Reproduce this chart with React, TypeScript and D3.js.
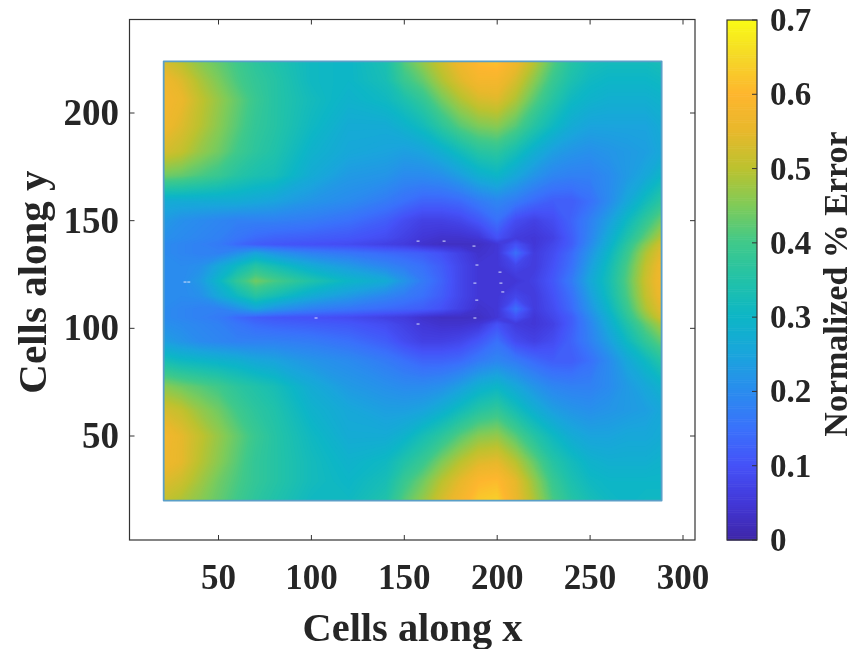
import React from "react";
import * as d3 from "d3";

const xGrid = [20.5,30,40,50,60,70,80,100,120,140,150,160,170,180,190,200,210,220,230,240,250,260,270,280,288.5];
const yGrid = [224,215,206,194,182,171,159,150,142,139,135,129,122,115,109,105,102,94,85,73,62,50,38,29,20];
const errorRows = [
[.53,.50,.46,.43,.40,.37,.35,.31,.30,.34,.42,.47,.52,.57,.61,.62,.57,.50,.42,.36,.33,.32,.32,.32,.33],
[.57,.54,.49,.45,.41,.38,.36,.31,.30,.33,.39,.43,.49,.54,.58,.58,.53,.46,.39,.34,.31,.30,.30,.30,.31],
[.58,.56,.51,.47,.43,.39,.36,.32,.29,.31,.34,.38,.44,.49,.53,.54,.49,.42,.36,.31,.29,.28,.28,.28,.29],
[.57,.54,.50,.46,.42,.38,.36,.31,.27,.27,.29,.32,.37,.42,.45,.46,.42,.36,.31,.27,.25,.25,.25,.25,.27],
[.53,.51,.47,.44,.40,.37,.35,.29,.26,.25,.24,.25,.28,.32,.36,.37,.33,.28,.24,.22,.21,.22,.23,.24,.26],
[.44,.43,.41,.39,.36,.34,.33,.27,.23,.22,.20,.20,.21,.24,.28,.30,.26,.22,.19,.18,.18,.20,.23,.26,.30],
[.27,.27,.27,.27,.27,.26,.25,.22,.20,.17,.15,.13,.13,.14,.17,.19,.17,.14,.12,.12,.15,.20,.26,.32,.37],
[.23,.21,.20,.19,.18,.18,.18,.17,.15,.12,.09,.07,.07,.08,.11,.15,.09,.07,.09,.13,.18,.24,.31,.38,.44],
[.21,.20,.19,.18,.16,.14,.13,.12,.11,.09,.07,.05,.04,.04,.05,.10,.06,.05,.07,.12,.19,.27,.35,.43,.50],
[.20,.19,.18,.17,.14,.12,.11,.10,.09,.07,.06,.04,.03,.03,.03,.05,.10,.05,.08,.12,.20,.28,.37,.46,.53],
[.20,.19,.18,.18,.21,.25,.22,.18,.16,.14,.13,.12,.10,.07,.04,.05,.15,.06,.09,.14,.22,.30,.39,.49,.55],
[.20,.20,.21,.26,.31,.36,.33,.27,.23,.19,.17,.15,.12,.08,.05,.05,.08,.06,.10,.15,.24,.32,.41,.51,.57],
[.20,.20,.23,.30,.38,.44,.41,.35,.30,.27,.22,.17,.13,.08,.05,.05,.05,.07,.11,.17,.26,.33,.42,.52,.58],
[.20,.20,.21,.26,.31,.36,.33,.27,.23,.19,.17,.15,.12,.08,.05,.05,.08,.06,.10,.15,.24,.32,.41,.51,.57],
[.20,.19,.18,.18,.21,.25,.22,.18,.16,.14,.13,.12,.10,.07,.04,.05,.15,.06,.09,.14,.22,.30,.39,.49,.55],
[.20,.19,.18,.17,.14,.12,.11,.10,.09,.07,.06,.04,.03,.03,.03,.05,.10,.05,.08,.12,.20,.28,.37,.46,.53],
[.21,.20,.19,.18,.16,.14,.13,.12,.11,.09,.07,.05,.04,.04,.05,.10,.06,.05,.07,.12,.19,.27,.35,.43,.49],
[.24,.22,.20,.19,.18,.18,.18,.17,.15,.12,.09,.07,.07,.08,.11,.15,.09,.07,.09,.13,.18,.24,.31,.38,.43],
[.33,.31,.30,.29,.28,.26,.25,.22,.20,.17,.15,.13,.13,.14,.17,.19,.17,.14,.12,.12,.15,.20,.26,.31,.36],
[.46,.44,.42,.40,.37,.35,.33,.27,.23,.21,.20,.20,.21,.24,.28,.30,.26,.22,.19,.18,.18,.20,.23,.26,.29],
[.53,.51,.47,.44,.40,.37,.35,.29,.26,.24,.24,.25,.28,.32,.36,.38,.33,.28,.24,.22,.21,.22,.23,.24,.26],
[.58,.55,.51,.47,.43,.39,.36,.31,.27,.27,.29,.33,.37,.42,.46,.47,.42,.36,.31,.27,.25,.25,.26,.26,.27],
[.57,.55,.50,.46,.42,.38,.36,.32,.29,.31,.35,.39,.45,.50,.54,.55,.50,.43,.36,.32,.29,.28,.28,.28,.29],
[.54,.52,.48,.44,.41,.38,.36,.32,.30,.33,.39,.44,.50,.55,.60,.61,.55,.47,.39,.34,.31,.30,.30,.30,.30],
[.51,.49,.46,.43,.40,.37,.35,.31,.31,.35,.42,.47,.53,.58,.63,.64,.56,.49,.41,.36,.33,.31,.30,.31,.31],
];
const specks = [[157.4,140.5],[171.4,140.5],[187.5,138.2],[189.1,129.4],[201.5,126.1],[202,121],[188,121],[203,116.9],[189,113.1],[188,104.8],[157.4,102],[32,121.5],[34,121.5],[102.5,104.8]];
const xTicks = [50,100,150,200,250,300];
const yTicks = [50,100,150,200];
const cTicks = [0,0.1,0.2,0.3,0.4,0.5,0.6,0.7];
const mapValues = [0,0.05,0.1,0.15,0.2,0.25,0.3,0.35,0.4,0.45,0.5,0.55,0.6,0.65,0.7];
const mapColors = ["#3e26a8","#4238d8","#4552f8","#3a72fb","#2a8cee","#1aa5dc","#0db6c6","#22c2a8","#40c98a","#80cb58","#bcc22f","#e8b82c","#feb62e","#f5d828","#f9fb15"];

const FONT = "'Liberation Serif', 'Times New Roman', serif";
const TEXT = "#262626";
const AX = { left: 129.5, right: 695, top: 19.5, bottom: 540 };
const CB = { left: 727, right: 757, top: 20, bottom: 540 };

export default function App() {
  const x = d3.scaleLinear().domain([50, 300]).range([218.5, 683]);
  const y = d3.scaleLinear().domain([50, 200]).range([436, 113]);
  const c = d3.scaleLinear().domain([0, 0.7]).range([CB.bottom, CB.top]);
  const color = d3.scaleLinear<string>().domain(mapValues).range(mapColors).clamp(true);

  const colIdx = d3.scaleLinear().domain(xGrid.map((_, i) => i)).range(xGrid).clamp(true);
  const rowIdx = d3.scaleLinear().domain(yGrid.map((_, i) => i)).range(yGrid).clamp(true);
  const nx = xGrid.length, ny = yGrid.length;
  const thresholds = d3.range(0, 0.7, 0.004);
  const contours = d3.contours().size([nx, ny]).thresholds(thresholds)(errorRows.flat());
  const path = d3.geoPath(d3.geoTransform({
    point(px: number, py: number) {
      (this as any).stream.point(x(colIdx(px - 0.5)), y(rowIdx(py - 0.5)));
    },
  }));

  const x0 = x(xGrid[0]), x1 = x(xGrid[nx - 1]), yT = y(yGrid[0]), yB = y(yGrid[ny - 1]);
  const barSteps = d3.range(0, 0.7, 0.0025);

  return (
    <svg width={854} height={649} style={{ position: "absolute", left: 0, top: 0, filter: "blur(0.5px)" }} fontFamily={FONT}>
      <rect width={854} height={649} fill="#fff" />
      <g>
        {contours.map((g, i) => (
          <path key={i} d={path(g as any) || ""} fill={color(g.value)} />
        ))}
      </g>
      <rect x={x0} y={yT} width={x1 - x0} height={yB - yT} fill="none" stroke="#5a9fc8" strokeWidth={1.8} strokeLinejoin="round" />
      {specks.map(([sx, sy], i) => (
        <rect key={i} x={x(sx) - 1.5} y={y(sy) - 0.6} width={3} height={1.2} fill="#dfe6ff" opacity={0.8} />
      ))}

      <rect x={AX.left} y={AX.top} width={AX.right - AX.left} height={AX.bottom - AX.top} fill="none" stroke="#333" strokeWidth={1.2} />
      {xTicks.map((t) => (
        <g key={t}>
          <line x1={x(t)} x2={x(t)} y1={AX.bottom} y2={AX.bottom - 5} stroke="#333" strokeWidth={1} />
          <line x1={x(t)} x2={x(t)} y1={AX.top} y2={AX.top + 5} stroke="#333" strokeWidth={1} />
          <text x={x(t)} y={589} textAnchor="middle" fontSize={35} fontWeight={700} fill={TEXT}>{t}</text>
        </g>
      ))}
      {yTicks.map((t) => (
        <g key={t}>
          <line y1={y(t)} y2={y(t)} x1={AX.left} x2={AX.left + 5} stroke="#333" strokeWidth={1} />
          <line y1={y(t)} y2={y(t)} x1={AX.right} x2={AX.right - 5} stroke="#333" strokeWidth={1} />
          <text x={119} y={y(t) + 12} textAnchor="end" fontSize={37} fontWeight={700} fill={TEXT}>{t}</text>
        </g>
      ))}
      <text x={412.5} y={641} textAnchor="middle" fontSize={40.4} fontWeight={700} fill={TEXT}>Cells along x</text>
      <text transform="translate(46,282) rotate(-90)" textAnchor="middle" fontSize={41} fontWeight={700} fill={TEXT}>Cells along y</text>

      {barSteps.map((v) => (
        <rect key={v} x={CB.left} y={c(v + 0.0025)} width={CB.right - CB.left} height={c(v) - c(v + 0.0025) + 0.6} fill={color(v)} />
      ))}
      <rect x={CB.left} y={CB.top} width={CB.right - CB.left} height={CB.bottom - CB.top} fill="none" stroke="#333" strokeWidth={1.2} />
      {cTicks.map((t) => (
        <g key={t}>
          <line x1={CB.right - 5} x2={CB.right} y1={c(t)} y2={c(t)} stroke="#333" strokeWidth={1} />
          <text x={770} y={c(t) + 11} fontSize={33} fontWeight={700} fill={TEXT}>{t}</text>
        </g>
      ))}
      <text transform="translate(847,284) rotate(-90)" textAnchor="middle" fontSize={34} fontWeight={700} fill={TEXT}>Normalized % Error</text>
    </svg>
  );
}
